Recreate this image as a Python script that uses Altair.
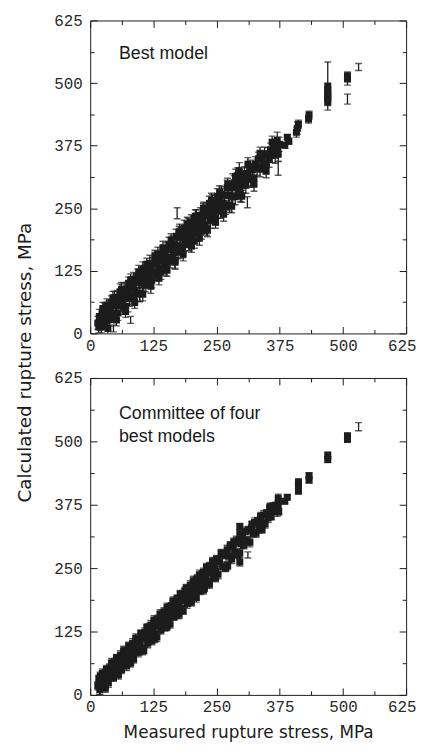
import altair as alt
import pandas as pd

# ---------------- data ----------------
# Top panel: "Best model"  (measured, calculated, half error bar)
top_measured = [15, 17, 18, 20, 22, 24, 26, 28, 30, 31, 33, 35, 37, 38, 40, 42, 44, 46, 48, 50, 52, 54, 55, 57, 59,
                61, 63, 65, 67, 68, 70, 72, 74, 76, 78, 80, 82, 84, 86, 88, 90, 92, 94, 96, 98, 100, 102, 104, 106, 108,
                110, 112, 114, 116, 118, 120, 122, 124, 126, 128,
                130, 132, 134, 136, 138, 140, 142, 144, 146, 148, 150, 152, 154, 156, 158, 160, 162, 164, 166, 168,
                170, 172, 174, 176, 178, 180, 182, 184, 186, 188, 190, 192, 194, 196, 198,
                200, 202, 204, 206, 208, 210, 212, 214, 216, 218, 220, 222, 224, 226, 228, 230, 232, 234, 236, 238,
                240, 242, 244, 246, 248, 250, 252, 254, 256, 258, 260,
                263, 266, 268, 271, 274, 276, 279, 282, 285, 287, 290, 292, 294, 295, 296, 297, 299, 302, 305, 308,
                310, 313, 316, 318, 321, 324, 327, 330, 333, 336, 339, 342, 345, 348, 351, 354, 357, 360, 363, 366,
                368, 370, 371, 372, 374,
                385, 390, 393, 408, 410, 412, 432, 433, 470, 470, 470, 470, 470, 470, 509, 509]
top_calculated = [21, 13, 34, 22, 14, 38, 30, 48, 24, 41, 57, 33, 51, 28, 46, 62, 38, 56, 70, 40, 56, 72, 41, 69, 83,
                  57, 77, 53, 87, 70, 54, 88, 78, 100, 70, 90, 100, 74, 108, 86, 102, 78, 114, 102, 80, 116, 104, 128,
                  98, 120,
                  96, 130, 118, 106, 140, 128, 106, 138, 122, 148,
                  118, 140, 158, 130, 152, 122, 146, 164, 136, 158, 130, 168, 152, 178, 144, 168, 180, 156, 178, 146,
                  194, 174, 162, 192, 174, 200, 166, 190, 210, 178, 202, 190, 214, 178, 206,
                  222, 194, 218, 184, 212, 234, 200, 224, 212, 236, 204, 228, 246, 216, 240, 210, 248, 234, 260, 226,
                  248, 262, 238, 260, 230, 256, 274, 246, 268, 244, 278,
                  259, 276, 252, 291, 276, 256, 291, 274, 301, 273, 294, 316, 284, 325, 310, 279, 305, 296, 319, 296,
                  318, 309, 332, 308, 327, 310, 339, 332, 349, 328, 349, 340, 359, 336, 357, 348, 367, 356, 371, 356,
                  374, 386, 369, 358, 378,
                  376, 392, 384, 402, 410, 418, 428, 436, 462, 468, 474, 480, 486, 494, 508, 514]
top_error = [13, 12, 14, 16, 13, 12, 15, 13, 14, 16, 12, 13, 15, 14, 16, 13, 12, 15, 14, 16, 13, 14, 15, 12, 16,
             14, 13, 15, 14, 16, 13, 14, 15, 13, 16, 14, 13, 15, 14, 16, 13, 14, 15, 13, 16, 14, 13, 15, 14, 16,
             13, 14, 15, 13, 16, 14, 15, 13, 16, 14,
             13, 15, 14, 16, 13, 14, 15, 13, 16, 14, 15, 13, 16, 14, 13, 15, 14, 16, 13, 16,
             14, 15, 13, 16, 14, 13, 15, 14, 16, 13, 15, 14, 16, 13, 14,
             15, 13, 16, 14, 15, 13, 16, 14, 13, 15, 16, 14, 13, 15, 16, 14, 13, 15, 14, 16,
             13, 15, 14, 16, 13, 14, 15, 16, 13, 14, 15,
             16, 13, 14, 15, 16, 14, 13, 15, 14, 16, 13, 15, 14, 16, 14, 16, 13, 15, 14, 16,
             13, 15, 14, 16, 13, 15, 14, 16, 13, 15, 14, 16, 13, 15, 14, 16, 13, 15, 14, 16,
             14, 16, 13, 15, 14,
             6, 5, 6, 10, 12, 8, 8, 8, 7, 6, 6, 6, 7, 48, 12, 8]
# points on the upper and lower fringe of the band
top_fringe_measured = [25, 35, 45, 52, 62, 70, 80, 88, 96, 104, 112, 120, 128, 136, 144, 152, 160, 168, 176, 184,
                       192, 200, 208, 216, 224, 232, 240, 248, 256, 264, 272, 280, 288, 300, 312, 324, 336, 348, 360]
top_fringe_calculated = [50, 10, 71, 27, 88, 44, 106, 62, 122, 78, 138, 94, 154, 110, 170, 126, 186, 142, 202, 158,
                         218, 174, 234, 190, 250, 206, 266, 222, 282, 238, 298, 254, 314, 274, 338, 298, 360, 324,
                         382]
top_fringe_error = [12, 12, 13, 12, 14, 12, 13, 12, 14, 13, 12, 14, 12, 13, 14, 12, 13, 14, 12, 13,
                    14, 12, 13, 14, 12, 13, 14, 12, 13, 14, 12, 13, 14, 12, 13, 14, 12, 13, 12]
# error bars drawn without a marker
top_bar_measured = [46, 80, 75, 98, 172, 177, 282, 311, 372, 509, 531]
top_bar_calculated = [10, 27, 50, 72, 240, 214, 306, 262, 330, 468, 532]
top_bar_error = [7, 7, 7, 9, 11, 4, 13, 11, 14, 10, 7]

# Bottom panel: "Committee of four best models"
bot_measured = [15, 17, 19, 20, 22, 24, 26, 28, 30, 32, 34, 36, 38, 40, 42, 44, 46, 48, 50, 52, 54, 56, 58, 60,
                62, 64, 66, 68, 70, 72, 74, 76, 78, 80, 82, 84, 86, 88, 90, 92, 94, 96, 98, 100, 102, 104, 106, 108,
                110, 112, 114, 116, 118, 120, 122, 124, 126, 128,
                130, 132, 134, 136, 138, 140, 142, 144, 146, 148, 150, 152, 154, 156, 158, 160, 162, 164, 166, 168,
                170, 172, 174, 176, 178, 180, 182, 184, 186, 188, 190, 192, 194, 196, 198,
                200, 202, 204, 206, 208, 210, 212, 214, 216, 218, 220, 222, 224, 226, 228, 230, 232, 234, 236, 238,
                240, 242, 244, 246, 248, 250,
                253, 256, 259, 262, 265, 268, 271, 274, 277, 280, 283, 286, 289, 292, 294, 296, 296, 296, 296, 298,
                301, 304, 307, 310, 313, 316, 319, 322, 325, 328, 331, 334, 337, 340, 343, 346, 349, 352, 355, 358,
                361, 364, 367, 370, 372, 372, 373,
                385, 390, 412, 412, 412, 433, 433, 470, 470, 509, 509]
bot_calculated = [18, 32, 10, 29, 19, 42, 26, 40, 21, 50, 37, 24, 53, 37, 63, 50, 34, 63, 50, 73, 45, 68, 55, 78,
                  50, 73, 87, 62, 85, 57, 80, 97, 69, 92, 79, 102, 71, 97, 111, 86, 109, 84, 104, 121, 93, 116, 88, 123,
                  110, 133, 102, 125, 115, 138, 107, 130, 147, 119,
                  142, 114, 149, 136, 159, 128, 151, 141, 164, 133, 156, 173, 145, 168, 140, 175, 159, 185, 154, 177,
                  164, 190, 159, 182, 199, 171, 194, 166, 201, 188, 211, 180, 203, 193, 216,
                  185, 208, 225, 197, 220, 192, 227, 211, 237, 206, 229, 216, 242, 211, 234, 251, 223, 246, 218, 253,
                  240, 263, 232, 255, 245, 268,
                  238, 262, 280, 253, 277, 250, 286, 274, 295, 268, 292, 280, 304, 277, 303, 280, 262, 318, 332, 298,
                  313, 295, 322, 304, 325, 301, 328, 319, 340, 319, 343, 328, 352, 337, 355, 337, 358, 349, 367, 352,
                  370, 364, 373, 361, 388, 376, 361,
                  382, 390, 402, 412, 420, 424, 432, 464, 472, 504, 510]
bot_error = [8, 7, 9, 8, 7, 9, 8, 7, 9, 8, 7, 9, 8, 7, 9, 8, 7, 9, 8, 7, 9, 8, 7, 9,
             8, 7, 9, 8, 7, 9, 8, 7, 9, 8, 7, 9, 8, 7, 9, 8, 7, 9, 8, 7, 9, 8, 7, 9,
             8, 7, 9, 8, 7, 9, 8, 7, 9, 8,
             7, 9, 8, 7, 9, 8, 7, 9, 8, 7, 9, 8, 7, 9, 8, 7, 9, 8, 7, 9,
             8, 7, 9, 8, 7, 9, 8, 7, 9, 8, 7, 9, 8, 7, 9,
             8, 7, 9, 8, 7, 9, 8, 7, 9, 8, 7, 9, 8, 7, 9, 8, 7, 9, 8, 7,
             9, 8, 7, 9, 8, 7,
             9, 8, 7, 9, 8, 7, 9, 8, 7, 9, 8, 7, 9, 8, 7, 8, 8, 7, 6, 9,
             8, 7, 9, 8, 7, 9, 8, 7, 9, 8, 7, 9, 8, 7, 9, 8, 7, 9, 8, 7,
             9, 8, 7, 9, 8, 7, 6,
             5, 5, 6, 8, 6, 6, 6, 6, 7, 6, 7]
bot_fringe_measured = [20, 30, 44, 56, 68, 80, 92, 104, 116, 128, 140, 152, 164, 176, 188, 200, 212, 224, 236, 248,
                       260, 272, 284, 320, 340, 356]
bot_fringe_calculated = [37, 13, 61, 39, 85, 63, 109, 87, 133, 111, 157, 135, 181, 159, 205, 183, 229, 207, 253,
                         231, 277, 255, 301, 336, 326, 371]
bot_fringe_error = [8, 8, 8, 8, 8, 8, 8, 8, 8, 8, 8, 8, 8, 8, 8, 8, 8, 8, 8, 8, 8, 8, 8, 7, 7, 7]
bot_bar_measured = [19, 312, 531]
bot_bar_calculated = [8, 276, 529]
bot_bar_error = [8, 6, 8]

major_ticks = [0, 125, 250, 375, 500, 625]
all_ticks = [0, 62.5, 125, 187.5, 250, 312.5, 375, 437.5, 500, 562.5, 625]

x_title = "Measured rupture stress, MPa"
y_title = "Calculated rupture stress, MPa"
top_note = "Best model"
bot_note = "Committee of four\nbest models"

# ---------------- styling ----------------
INK = "#1c1c1c"
W = 319
TICK_FONT = "Liberation Mono"
TITLE_FONT = "DejaVu Sans"
tick_size = {"condition": {"test": "datum.value % 125 === 0", "value": 7}, "value": 4}
x_label_align = {"condition": {"test": "datum.value === 625", "value": "right"}, "value": "center"}
x_label_offset = {"condition": {"test": "datum.value === 625", "value": 10}, "value": 0}


def panel(meas, calc, err, fmeas, fcalc, ferr, bmeas, bcalc, berr, note, note_y, height,
          show_x_title, show_y_title):
    df = pd.DataFrame({"m": list(meas) + list(fmeas), "c": list(calc) + list(fcalc), "e": list(err) + list(ferr)})
    df["lo"] = df["c"] - df["e"]
    df["hi"] = df["c"] + df["e"]
    dfb = pd.DataFrame({"m": bmeas, "c": bcalc, "e": berr})
    dfb["lo"] = dfb["c"] - dfb["e"]
    dfb["hi"] = dfb["c"] + dfb["e"]

    xs = alt.Scale(domain=[0, 625], nice=False, zero=False)
    ys = alt.Scale(domain=[0, 625], nice=False, zero=False)

    # axes carrying the labels (and titles)
    x_lab_kw = dict(orient="bottom", values=major_ticks, ticks=False, tickSize=0, domain=False, grid=False,
                    labelFont=TICK_FONT, labelFontSize=16, labelColor="#2a2a2a", labelPadding=4,
                    labelFlush=False, labelOverlap=False, labelAlign=x_label_align, labelOffset=x_label_offset)
    if show_x_title:
        x_lab_kw.update(title=x_title, titleFont=TITLE_FONT, titleFontSize=17, titleFontWeight="normal",
                        titleColor="#1a1a1a", titlePadding=10)
    else:
        x_lab_kw.update(title=None)
    y_lab_kw = dict(orient="left", values=major_ticks, ticks=False, tickSize=0, domain=False, grid=False,
                    labelFont=TICK_FONT, labelFontSize=16, labelColor="#2a2a2a", labelPadding=8,
                    labelFlush=False, labelOverlap=False)
    if show_y_title:
        y_lab_kw.update(title=y_title, titleFont=TITLE_FONT, titleFontSize=18.5, titleFontWeight="normal",
                        titleColor="#1a1a1a", titlePadding=19, titleY=345)
    else:
        y_lab_kw.update(title=None)

    label_layer = alt.Chart(df).mark_point(opacity=0).encode(
        x=alt.X("m:Q", scale=xs, axis=alt.Axis(**x_lab_kw)),
        y=alt.Y("c:Q", scale=ys, axis=alt.Axis(**y_lab_kw)),
    )

    def tick_axis(orient, offset):
        return alt.Axis(orient=orient, offset=offset, values=all_ticks, labels=False, domain=False,
                        grid=False, ticks=True, tickSize=tick_size, tickColor=INK, tickWidth=1, title=None)

    ticks_a = alt.Chart(df).mark_point(opacity=0).encode(
        x=alt.X("m:Q", scale=xs, axis=tick_axis("top", -height)),
        y=alt.Y("c:Q", scale=ys, axis=tick_axis("right", -W)),
    )
    ticks_b = alt.Chart(df).mark_point(opacity=0).encode(
        x=alt.X("m:Q", scale=xs, axis=tick_axis("bottom", -height)),
        y=alt.Y("c:Q", scale=ys, axis=tick_axis("left", -W)),
    )

    def bars(data):
        rule = alt.Chart(data).mark_rule(color=INK, strokeWidth=1.3, clip=True).encode(
            x=alt.X("m:Q", scale=xs, axis=None),
            y=alt.Y("lo:Q", scale=ys, axis=None),
            y2="hi:Q",
        )
        cap_hi = alt.Chart(data).mark_tick(color=INK, orient="horizontal", size=7, thickness=1.4,
                                            clip=True).encode(
            x=alt.X("m:Q", scale=xs, axis=None),
            y=alt.Y("hi:Q", scale=ys, axis=None),
        )
        cap_lo = alt.Chart(data).mark_tick(color=INK, orient="horizontal", size=7, thickness=1.4,
                                            clip=True).encode(
            x=alt.X("m:Q", scale=xs, axis=None),
            y=alt.Y("lo:Q", scale=ys, axis=None),
        )
        return [rule, cap_hi, cap_lo]

    squares = alt.Chart(df).mark_square(color=INK, size=50, opacity=1, filled=True, clip=True).encode(
        x=alt.X("m:Q", scale=xs, axis=None),
        y=alt.Y("c:Q", scale=ys, axis=None),
    )

    note_layer = alt.Chart(pd.DataFrame({"t": [note]})).mark_text(
        align="left", baseline="alphabetic", font="Liberation Sans", fontSize=18, color="#1a1a1a",
        lineBreak="\n", lineHeight=24,
    ).encode(x=alt.value(29), y=alt.value(note_y), text="t:N")

    layers = [label_layer, ticks_a, ticks_b] + bars(df) + bars(dfb) + [squares, note_layer]
    return alt.layer(*layers).resolve_axis(x="independent", y="independent").properties(
        width=W, height=height)


top = panel(top_measured, top_calculated, top_error,
            top_fringe_measured, top_fringe_calculated, top_fringe_error,
            top_bar_measured, top_bar_calculated, top_bar_error,
            top_note, 39, 316, False, True)
bottom = panel(bot_measured, bot_calculated, bot_error,
               bot_fringe_measured, bot_fringe_calculated, bot_fringe_error,
               bot_bar_measured, bot_bar_calculated, bot_bar_error,
               bot_note, 41, 320, True, False)

chart = alt.vconcat(top, bottom, spacing=45, bounds="flush").properties(
    padding={"left": 7, "top": 0, "right": 0, "bottom": 0}
).configure_view(stroke=INK, strokeWidth=1)

chart.save("out.html", embed_options={"renderer": "svg", "actions": False})
